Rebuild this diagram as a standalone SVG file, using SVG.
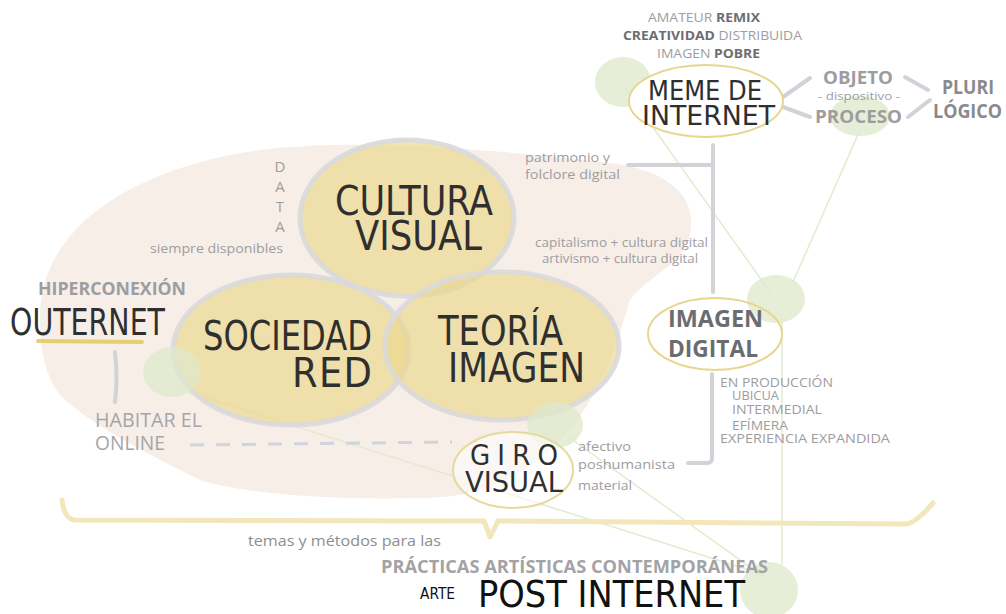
<svg xmlns="http://www.w3.org/2000/svg" width="1006" height="614" viewBox="0 0 1006 614">
<style>
.lbl{font-family:"Open Sans","DejaVu Sans",sans-serif;fill:#9d9d9f}
.dk{fill:#6d6d70}
.hand{font-family:"DejaVu Sans Condensed","DejaVu Sans",sans-serif;fill:#2f2f2f;font-weight:normal}
.bold{font-weight:bold}
.big{fill-opacity:0.68;fill:#ead78c;stroke:#d9d9dc;stroke-width:5;stroke-opacity:0.9}
.blob{fill:#dfe8cb;fill-opacity:0.75}
.gline{stroke:#e3ebcf;stroke-width:1.5;fill:none}
.conn{stroke:#d2d3d8;stroke-width:4;fill:none;stroke-linecap:round;stroke-linejoin:round}
.ring{fill:#fff;stroke:#e6d68f;stroke-width:2}
</style>

<g id="background">
<path d="M 40,320 C 38,240 110,180 230,155 C 330,135 480,148 610,163 C 670,170 702,200 688,240 C 678,268 645,278 630,300 C 618,340 600,400 560,440 C 520,480 480,498 420,498 C 330,500 250,495 200,480 C 150,455 90,425 60,395 C 45,375 40,350 40,320 Z" fill="#f7eee8"/>
</g>

<g id="connectors">
<line class="gline" x1="625" y1="88" x2="770" y2="292"/>
<line class="gline" x1="860" y1="130" x2="793" y2="282"/>
<line class="gline" x1="782" y1="318" x2="782" y2="565"/>
<line class="gline" x1="165" y1="385" x2="765" y2="575"/>
<line class="gline" x1="556" y1="428" x2="765" y2="578"/>
<path class="conn" d="M 628,165 L 713,165 M 713,145 L 713,292"/>
<path class="conn" d="M 712,374 L 712,458 Q 712,463 707,463 L 688,463"/>
<path class="conn" d="M 783,97 L 810,78 M 783,107 L 810,117"/>
<path class="conn" d="M 905,77 L 928,90 M 908,117 L 930,100"/>
<path class="conn" d="M 115,352 Q 118,377 115,402"/>
<line x1="190" y1="445" x2="452" y2="442" stroke="#cfd4de" stroke-width="3" stroke-dasharray="14 12"/>
<line x1="38" y1="341" x2="142" y2="342" stroke="#e5cf70" stroke-width="4" stroke-linecap="round"/>
<path d="M 62,500 Q 64,518 74,520 L 484,521 L 490,537 L 498,521 L 905,524 Q 915,524 933,503" fill="none" stroke="#f2e6bb" stroke-width="5" stroke-linecap="round" stroke-linejoin="round"/>
</g>

<g id="blobs">
<ellipse class="blob" cx="623" cy="82" rx="28" ry="25"/>
<ellipse class="blob" cx="860" cy="116" rx="30" ry="20"/>
<ellipse class="blob" cx="776" cy="299" rx="29" ry="24"/>
<ellipse class="blob" cx="769" cy="590" rx="29" ry="28"/>
</g>

<g id="cultura-visual">
<ellipse class="big" cx="407" cy="218" rx="107" ry="78"/>
<text class="hand" font-size="40" x="335" y="215" textLength="158" lengthAdjust="spacingAndGlyphs">CULTURA</text>
<text class="hand" font-size="40" x="355" y="250" textLength="127" lengthAdjust="spacingAndGlyphs">VISUAL</text>
</g>

<g id="sociedad-red">
<ellipse class="big" cx="291" cy="350" rx="118" ry="75"/>
<text class="hand" font-size="41" x="203" y="350" textLength="169" lengthAdjust="spacingAndGlyphs">SOCIEDAD</text>
<text class="hand" font-size="41" x="292" y="387" textLength="80" lengthAdjust="spacing">RED</text>
</g>

<g id="teoria-imagen">
<ellipse class="big" cx="502" cy="346" rx="117" ry="74"/>
<text class="hand" font-size="41" x="438" y="345" textLength="125" lengthAdjust="spacingAndGlyphs">TEORÍA</text>
<text class="hand" font-size="41" x="448" y="382" textLength="137" lengthAdjust="spacingAndGlyphs">IMAGEN</text>
</g>

<g id="blob-left"><ellipse class="blob" cx="172" cy="372" rx="29" ry="25"/></g>
<g id="blob-teoria"><ellipse class="blob" cx="555" cy="425" rx="28" ry="23"/></g>

<g id="meme-de-internet">
<ellipse class="ring" cx="706" cy="101" rx="77" ry="36"/>
<text class="hand" font-size="26" x="648" y="100" textLength="114" lengthAdjust="spacingAndGlyphs">MEME DE</text>
<text class="hand" font-size="26" x="642" y="125" textLength="133" lengthAdjust="spacingAndGlyphs">INTERNET</text>
</g>

<g id="meme-attributes">
<text class="lbl" font-size="12" x="648" y="22" textLength="112" lengthAdjust="spacingAndGlyphs">AMATEUR <tspan class="dk bold">REMIX</tspan></text>
<text class="lbl" font-size="12" x="623" y="40" textLength="179" lengthAdjust="spacingAndGlyphs"><tspan class="dk bold">CREATIVIDAD</tspan> DISTRIBUIDA</text>
<text class="lbl" font-size="12" x="657" y="58" textLength="103" lengthAdjust="spacingAndGlyphs">IMAGEN <tspan class="dk bold">POBRE</tspan></text>
</g>

<g id="objeto-proceso">
<text class="lbl bold" font-size="17" x="823" y="84" textLength="70" lengthAdjust="spacingAndGlyphs">OBJETO</text>
<text class="lbl" font-size="11" x="818" y="100" textLength="82" lengthAdjust="spacingAndGlyphs">- dispositivo -</text>
<text class="lbl bold" font-size="17" x="815" y="123" textLength="87" lengthAdjust="spacingAndGlyphs">PROCESO</text>
</g>

<g id="plurilogico">
<text class="lbl bold" font-size="19" x="942" y="94" textLength="52" lengthAdjust="spacingAndGlyphs" style="fill:#8a8a8d">PLURI</text>
<text class="lbl bold" font-size="19" x="933" y="118" textLength="69" lengthAdjust="spacingAndGlyphs" style="fill:#8a8a8d">LÓGICO</text>
</g>

<g id="imagen-digital">
<ellipse class="ring" cx="715" cy="334" rx="67" ry="36" style="fill:none"/>
<text class="lbl bold" font-size="24" x="668" y="327" textLength="95" lengthAdjust="spacingAndGlyphs" style="fill:#6c6c70">IMAGEN</text>
<text class="lbl bold" font-size="24" x="668" y="357" textLength="90" lengthAdjust="spacingAndGlyphs" style="fill:#6c6c70">DIGITAL</text>
</g>

<g id="imagen-digital-list">
<text class="lbl" font-size="12" x="720" y="387" textLength="113" lengthAdjust="spacingAndGlyphs">EN PRODUCCIÓN</text>
<text class="lbl" font-size="12" x="732" y="400" textLength="47" lengthAdjust="spacingAndGlyphs">UBICUA</text>
<text class="lbl" font-size="12" x="732" y="414" textLength="90" lengthAdjust="spacingAndGlyphs">INTERMEDIAL</text>
<text class="lbl" font-size="12" x="732" y="430" textLength="56" lengthAdjust="spacingAndGlyphs">EFÍMERA</text>
<text class="lbl" font-size="12" x="720" y="443" textLength="170" lengthAdjust="spacingAndGlyphs">EXPERIENCIA EXPANDIDA</text>
</g>

<g id="cultura-labels">
<text class="lbl" font-size="13" x="525" y="162" textLength="85" lengthAdjust="spacingAndGlyphs">patrimonio y</text>
<text class="lbl" font-size="13" x="525" y="179" textLength="95" lengthAdjust="spacingAndGlyphs">folclore digital</text>
<text class="lbl" font-size="12" x="535" y="247" textLength="173" lengthAdjust="spacingAndGlyphs">capitalismo + cultura digital</text>
<text class="lbl" font-size="12" x="542" y="263" textLength="156" lengthAdjust="spacingAndGlyphs">artivismo + cultura digital</text>
</g>

<g id="data">
<text class="lbl" font-size="15" x="280" y="172" text-anchor="middle">D</text>
<text class="lbl" font-size="15" x="280" y="192" text-anchor="middle">A</text>
<text class="lbl" font-size="15" x="280" y="212" text-anchor="middle">T</text>
<text class="lbl" font-size="15" x="280" y="232" text-anchor="middle">A</text>
<text class="lbl" font-size="12" x="150" y="253" textLength="133" lengthAdjust="spacingAndGlyphs">siempre disponibles</text>
</g>

<g id="outernet">
<text class="lbl bold" font-size="18" x="38" y="295" textLength="148" lengthAdjust="spacingAndGlyphs">HIPERCONEXIÓN</text>
<text class="hand" font-size="37" x="10" y="335" textLength="155" lengthAdjust="spacingAndGlyphs">OUTERNET</text>
</g>

<g id="habitar-online">
<text class="lbl" font-size="20" x="95" y="427" textLength="107" lengthAdjust="spacingAndGlyphs" style="fill:#a5a5a8">HABITAR EL</text>
<text class="lbl" font-size="20" x="95" y="450" textLength="70" lengthAdjust="spacingAndGlyphs" style="fill:#a5a5a8">ONLINE</text>
</g>

<g id="giro-visual">
<ellipse cx="513" cy="470" rx="60" ry="38" fill="#fff" fill-opacity="0.55" stroke="#e6d99c" stroke-width="2"/>
<text class="hand" font-size="29" x="470" y="465" textLength="88" lengthAdjust="spacing">GIRO</text>
<text class="hand" font-size="29" x="465" y="492" textLength="98" lengthAdjust="spacingAndGlyphs">VISUAL</text>
<text class="lbl" font-size="12" x="578" y="451" textLength="53" lengthAdjust="spacingAndGlyphs">afectivo</text>
<text class="lbl" font-size="12" x="578" y="469" textLength="97" lengthAdjust="spacingAndGlyphs">poshumanista</text>
<text class="lbl" font-size="12" x="578" y="490" textLength="54" lengthAdjust="spacingAndGlyphs">material</text>
</g>

<g id="post-internet">
<text class="lbl" font-size="14" x="248" y="546" textLength="193" lengthAdjust="spacingAndGlyphs" style="fill:#8e8e91">temas y métodos para las</text>
<text class="lbl bold" font-size="18" x="381" y="573" textLength="387" lengthAdjust="spacingAndGlyphs" style="fill:#a3a3a6">PRÁCTICAS ARTÍSTICAS CONTEMPORÁNEAS</text>
<text class="hand" font-size="15" x="420" y="599" textLength="35" lengthAdjust="spacingAndGlyphs" style="fill:#111">ARTE</text>
<text class="hand" font-size="38" x="478" y="607" textLength="267" lengthAdjust="spacingAndGlyphs" style="fill:#111">POST INTERNET</text>
</g>
</svg>
